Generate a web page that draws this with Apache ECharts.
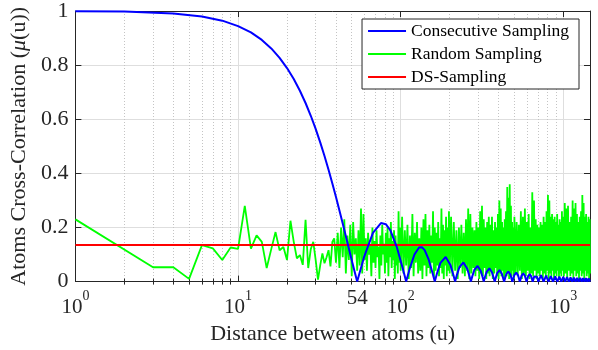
<!DOCTYPE html>
<html><head><meta charset="utf-8">
<script src="https://cdn.jsdelivr.net/npm/echarts@6/dist/echarts.min.js"></script>
<style>html,body{margin:0;padding:0;background:#fff}#c{width:598px;height:350px}</style>
</head><body><div id="c"></div>
<script>
// ---- data ----
const seriesNames = ['Consecutive Sampling', 'Random Sampling', 'DS-Sampling'];
const xMin = 1, xMax = 1458;
const xLabelValues = [1, 10, 54, 100, 1000];
const xMinorValues = [2,3,4,5,6,7,8,9,20,30,40,50,60,70,80,90,200,300,400,500,600,700,800,900];
const yMin = 0, yMax = 1, yStep = 0.2;

const consecutive = [
[1,.9994],[2,.9977],[4,.991],[6,.9798],[8,.9643],[10,.944],[12,.9208],[14,.8931],[16,.8617],[18,.827],[20,.789],[22,.7485],[24,.7053],[26,.66],[28,.6128],[30,.5643],[32,.5146],[34,.4642],[36,.4135],[38,.3628],[40,.3126],[42,.2631],[44,.2147],[46,.1674],[48,.1225],[50,.0793],[52,.0384],[54,0],
[59.4,.0894],[67.5,.18],[75.6,.2163],[81,.2122],[86.4,.1892],[94.5,.1286],[102.6,.0518],[108,0],
[113.4,.0468],[121.5,.1],[129.6,.1261],[135,.1273],[140.4,.1164],[148.5,.0819],[156.6,.0339],[162,0],
[167.4,.0317],[175.5,.0693],[189,.0909],[202.5,.06],[210.6,.0252],[216,0],
[221.4,.024],[229.5,.053],[243,.0707],[256.5,.0474],[264.6,.0201],[270,0],
[275.4,.0193],[283.5,.0429],[297,.0579],[310.5,.0392],[318.6,.0167],[324,0],
[329.4,.0161],[337.5,.036],[351,.049],[364.5,.0333],[372.6,.0143],[378,0],
[391.5,.031],[405,.0424],[418.5,.029],[432,0],
[445.5,.0273],[459,.0375],[472.5,.0257],[486,0],
[499.5,.0243],[513,.0335],[526.5,.0231],[540,0],
[553.5,.022],[567,.0303],[580.5,.0209],[594,0],
[607.5,.02],[621,.0277],[634.5,.0192],[648,0],
[661.5,.0184],[675,.0255],[688.5,.0177],[702,0],
[729,.0236],[756,0],[783,.022],[810,0],[837,.0205],[864,0],[891,.0193],[918,0],[945,.0182],[972,0],
[999,.0172],[1026,0],[1053,.0163],[1080,0],[1107,.0155],[1134,0],[1161,.0148],[1188,0],[1215,.0141],[1242,0],
[1269,.0135],[1296,0],[1323,.013],[1350,0],[1377,.0125],[1404,0],[1431,.012],[1458,0]
];

const randomLow = [
[1,.23],[3,.053],[4,.053],[5,.01],[6,.135],[7,.123],[8,.08],[9,.126],[10,.121],[11,.28],[12,.122],[13,.171],[14,.147],[15,.05],[16,.12],[17,.183],[18,.116],[19,.128],[20,.08],
[21,.225],[22,.147],[23,.086],[24,.098],[25,.062],[26,.228],[27,.05],[28,.12],[29,.147],[30,.08],[31,.007],[32,.06],[33,.104],[34,.068],[35,.09],[36,.116],[37,.056],[38,.147]
];
const randomMid = [
[39,.16],[40,.07],[41,.18],[42,.05],[43,.2],[44,.09],[45,.23],[46,.03],[47,.17],[48,.08],[49,.21],[50,.02],[51,.22],[52,.1],[53,.16],[54,.04],[55,.19],[56,.06],[57,.27],[58,.03],
[59,.25],[60,.08],[61,.16],[62,.04],[63,.18],[64,.1],[65,.14],[66,.02],[67,.2],[68,.07],[69,.15],[70,.05],[71,.19],[72,.09],[73,.13],[74,.01],[75,.17],[76,.06],[77,.21],[78,.1],
[79,.14],[80,.03],[81,.18],[82,.07],[83,.2],[84,.02],[85,.16],[86,.09],[87,.22],[88,.05],[89,.15],[90,.08],[91,.19],[92,.01],[93,.17],[94,.06],[95,.14],[96,.03],[97,.26],[98,.07],
[99,.2],[100,.04]
];
const randomHigh = [
[102,.24],[104,.03],[106,.19],[108,.06],[110,.21],[112,.01],[114,.17],[116,.05],[118,.25],[120,.02],
[122,.18],[124,.07],[126,.22],[128,.03],[130,.16],[132,.04],[134,.2],[136,.01],[138,.23],[140,.06],
[142,.25],[144,.02],[146,.19],[148,.05],[150,.21],[152,.03],[154,.17],[156,.07],[158,.26],[160,.01],
[162,.2],[164,.04],[166,.18],[168,.06],[170,.22],[172,.02],[174,.16],[176,.05],[178,.27],[180,.03],
[182,.21],[184,.01],[186,.19],[188,.06],[190,.24],[192,.02],[194,.2],[196,.04],[198,.26],[200,.03],
[204,.24],[208,.02],[212,.22],[216,.04],[220,.19],[224,.01],[228,.2],[232,.05],[236,.21],[240,.03],
[244,.18],[248,.02],[252,.23],[256,.04],[260,.27],[264,.01],[268,.25],[272,.03],[276,.2],[280,.05],
[284,.19],[288,.02],[292,.22],[296,.04],[300,.2],[304,.01],[308,.26],[312,.03],[316,.28],[320,.02],
[324,.23],[328,.05],[332,.2],[336,.01],[340,.22],[344,.03],[348,.24],[352,.02],[356,.21],[360,.04],
[364,.24],[368,.01],[372,.19],[376,.03],[380,.22],[384,.05],[388,.2],[392,.02],[396,.25],[400,.01],
[404,.3],[408,.03],[412,.27],[416,.02],[420,.22],[424,.04],[428,.2],[432,.01],[436,.23],[440,.03],
[444,.26],[448,.02],[452,.35],[456,.04],[460,.31],[464,.01],[468,.36],[472,.03],[476,.28],[480,.02],
[484,.22],[488,.04],[492,.2],[496,.01],[500,.24],
[508,.03],[516,.22],[524,.02],[532,.21],[540,.04],[548,.26],[556,.01],[564,.24],[572,.03],[580,.27],
[588,.02],[596,.22],[604,.04],[612,.25],[620,.01],[628,.2],[636,.03],[644,.33],[652,.02],[660,.3],
[668,.04],[676,.23],[684,.01],[692,.21],[700,.03],[708,.2],[716,.02],[724,.22],[732,.04],[740,.21],
[748,.01],[756,.24],[764,.03],[772,.22],[780,.02],[788,.26],[796,.04],[804,.32],[812,.01],[820,.3],
[828,.03],[836,.24],[844,.02],[852,.25],[860,.04],[868,.23],[876,.01],[884,.24],[892,.03],[900,.22],
[908,.02],[916,.25],[924,.04],[932,.21],[940,.01],[948,.23],[956,.03],[964,.22],[972,.02],[980,.26],
[988,.04],[996,.24],
[1008,.02],[1020,.29],[1032,.03],[1044,.27],[1056,.01],[1068,.28],[1080,.04],[1092,.22],[1104,.02],[1116,.24],
[1128,.03],[1140,.3],[1152,.01],[1164,.27],[1176,.04],[1188,.29],[1200,.02],[1212,.25],[1224,.03],[1236,.22],
[1248,.01],[1260,.24],[1272,.04],[1284,.26],[1296,.02],[1308,.32],[1320,.03],[1332,.29],[1344,.01],[1356,.24],
[1368,.04],[1380,.25],[1392,.02],[1404,.22],[1416,.03],[1428,.24],[1440,.01],[1452,.23],[1458,.03]
];
const dsSampling = [[1,.135],[1458,.135]];

// ---- chart ----
const FONT = 'Liberation Serif';
const AX = '#262626';
const chart = echarts.init(document.getElementById('c'), null, {renderer:'canvas'});

function xFmt(v){
  if (Math.abs(v - 54) < 1e-6) return '{n|54}';
  const e = Math.round(Math.log10(v));
  return '{b|10}{s|' + e + '}';
}

const logBase = {type:'log', logBase:10, min:xMin, max:xMax};
const option = {
  animation:false,
  backgroundColor:'#fff',
  grid:{left:71, right:8, top:7, bottom:68, containLabel:false},
  legend:{
    data:seriesNames, orient:'vertical', right:19, top:19,
    icon:'rect', itemWidth:38, itemHeight:2, itemGap:5,
    padding:[3,10,3,6],
    backgroundColor:'#fff', borderColor:AX, borderWidth:1, borderRadius:0,
    textStyle:{fontFamily:FONT, fontSize:17.5, color:'#000'}
  },
  xAxis:[
    Object.assign({}, logBase, {
      position:'bottom',
      axisLine:{show:true, onZero:false, lineStyle:{color:AX, width:1}},
      axisTick:{show:true, inside:true, length:6, lineStyle:{color:AX}},
      axisLabel:{customValues:xLabelValues, margin:8, formatter:xFmt, color:AX, fontFamily:FONT,
        rich:{
          b:{fontFamily:FONT, fontSize:21, lineHeight:36, color:AX},
          s:{fontFamily:FONT, fontSize:14, lineHeight:17, verticalAlign:'top', color:AX},
          n:{fontFamily:FONT, fontSize:21, lineHeight:18, color:AX}
        }},
      splitLine:{show:true, lineStyle:{color:'#dedede', width:1}},
      name:'Distance between atoms (u)', nameLocation:'middle', nameGap:38,
      nameTextStyle:{fontFamily:FONT, fontSize:22, color:AX}
    }),
    Object.assign({}, logBase, {
      position:'bottom',
      axisLine:{show:false},
      axisTick:{show:true, inside:true, length:3, customValues:xMinorValues, lineStyle:{color:AX}},
      axisLabel:{show:false},
      splitLine:{show:true, lineStyle:{color:'#c4c4c4', width:1, type:[1,2]}}
    }),
    Object.assign({}, logBase, {
      position:'top',
      axisLine:{show:true, onZero:false, lineStyle:{color:AX, width:1}},
      axisTick:{show:true, inside:true, length:6, lineStyle:{color:AX}},
      axisLabel:{show:false}, splitLine:{show:false}
    }),
    Object.assign({}, logBase, {
      position:'top',
      axisLine:{show:false},
      axisTick:{show:true, inside:true, length:3, customValues:xMinorValues, lineStyle:{color:AX}},
      axisLabel:{show:false}, splitLine:{show:false}
    })
  ],
  yAxis:[
    {type:'value', min:yMin, max:yMax, interval:yStep, position:'left',
      axisLine:{show:true, onZero:false, lineStyle:{color:AX, width:1}},
      axisTick:{show:true, inside:true, length:6, lineStyle:{color:AX}},
      axisLabel:{margin:7, fontFamily:FONT, fontSize:22, color:AX},
      splitLine:{show:true, lineStyle:{color:'#dedede', width:1}},
      name:'Atoms Cross-Correlation ({i|μ}(u))', nameLocation:'middle', nameGap:36, nameRotate:90,
      nameTextStyle:{fontFamily:FONT, fontSize:22, color:AX,
        rich:{i:{fontFamily:FONT, fontSize:22, fontStyle:'italic', color:AX}}}
    },
    {type:'value', min:yMin, max:yMax, interval:yStep, position:'right',
      axisLine:{show:true, onZero:false, lineStyle:{color:AX, width:1}},
      axisTick:{show:true, inside:true, length:6, lineStyle:{color:AX}},
      axisLabel:{show:false}, splitLine:{show:false}
    }
  ],
  series:[
    {name:seriesNames[1], type:'line', xAxisIndex:0, yAxisIndex:0, showSymbol:false, symbol:'none',
      data:randomLow.concat(randomMid, randomHigh),
      lineStyle:{color:'#00ff00', width:1.8}, itemStyle:{color:'#00ff00'}, z:2},
    {name:seriesNames[2], type:'line', xAxisIndex:0, yAxisIndex:0, showSymbol:false, symbol:'none',
      data:dsSampling, lineStyle:{color:'#ff0000', width:2}, itemStyle:{color:'#ff0000'}, z:3},
    {name:seriesNames[0], type:'line', xAxisIndex:0, yAxisIndex:0, showSymbol:false, symbol:'none',
      data:consecutive, lineStyle:{color:'#0000ff', width:2}, itemStyle:{color:'#0000ff'}, z:4}
  ]
};
chart.setOption(option);
</script>
</body></html>
